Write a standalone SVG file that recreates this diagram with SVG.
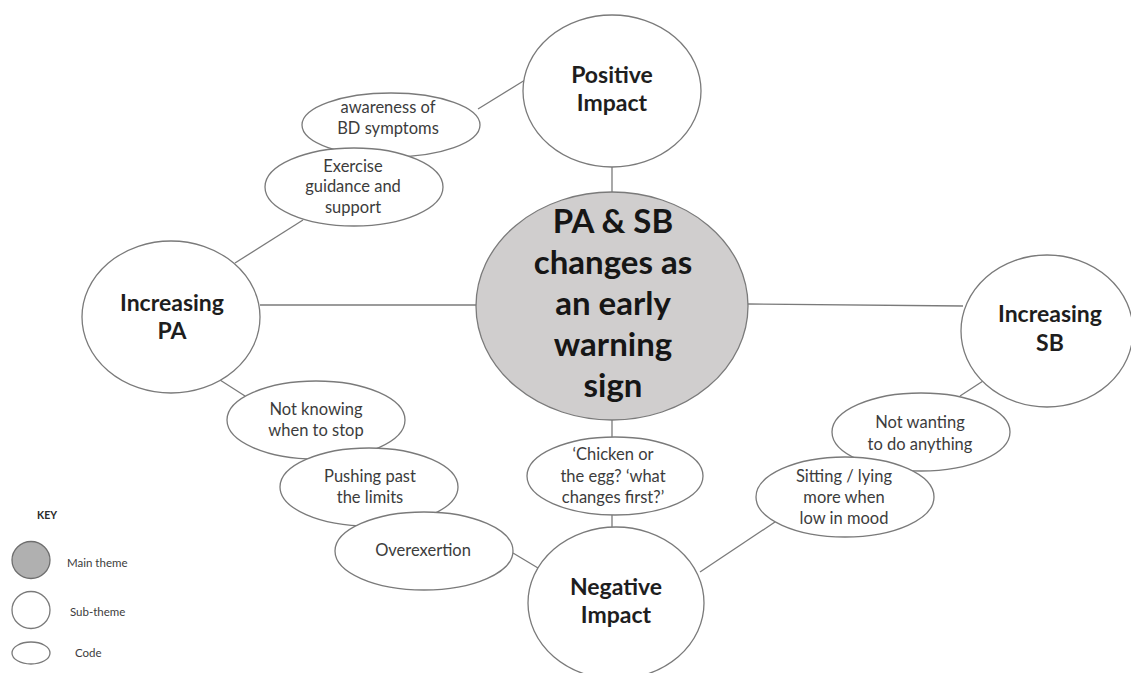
<svg xmlns="http://www.w3.org/2000/svg" width="1131" height="673" viewBox="0 0 1131 673">
  <style>
    .bg { fill: #ffffff; }
    .shape { fill: #ffffff; stroke: #7a7a7a; stroke-width: 1.3; }
    .main { fill: #d0cece; stroke: #7a7a7a; stroke-width: 1.3; }
    .link { stroke: #7a7a7a; stroke-width: 1.3; fill: none; }
    .title { font-family: Lato, "Liberation Sans", sans-serif; font-weight: bold; font-size: 33px; fill: #161616; text-anchor: middle; }
    .sub { font-family: Lato, "Liberation Sans", sans-serif; font-weight: bold; font-size: 23px; fill: #1e1e1e; text-anchor: middle; }
    .code { font-family: Lato, "Liberation Sans", sans-serif; font-size: 16.5px; fill: #3c3c3c; text-anchor: middle; }
    .key { font-family: Lato, "Liberation Sans", sans-serif; font-size: 11.5px; fill: #3c3c3c; }
  </style>
  <rect class="bg" x="0" y="0" width="1131" height="673"/>

  <!-- connectors -->
  <g id="connectors">
    <line class="link" x1="612" y1="167" x2="612" y2="192"/>
    <line class="link" x1="260" y1="305" x2="477" y2="305"/>
    <line class="link" x1="748" y1="304" x2="963" y2="306"/>
    <line class="link" x1="612" y1="420" x2="612" y2="438"/>
    <line class="link" x1="612" y1="515" x2="612" y2="527"/>
    <line class="link" x1="478" y1="109" x2="525" y2="80"/>
    <line class="link" x1="303" y1="220" x2="235" y2="263"/>
    <line class="link" x1="220" y1="380" x2="245" y2="396"/>
    <line class="link" x1="513" y1="553" x2="538" y2="568"/>
    <line class="link" x1="983" y1="381" x2="960" y2="396"/>
    <line class="link" x1="775" y1="522" x2="700" y2="572"/>
  </g>

  <!-- main theme -->
  <g id="main-theme">
    <ellipse class="main" cx="612" cy="306" rx="136" ry="114"/>
    <text class="title" x="613" y="233">PA &amp; SB</text>
    <text class="title" x="613" y="274">changes as</text>
    <text class="title" x="613" y="315">an early</text>
    <text class="title" x="613" y="356">warning</text>
    <text class="title" x="613" y="397">sign</text>
  </g>

  <!-- sub-themes -->
  <g id="positive-impact">
    <ellipse class="shape" cx="612" cy="91" rx="89" ry="76"/>
    <text class="sub" x="612" y="83">Positive</text>
    <text class="sub" x="612" y="111">Impact</text>
  </g>
  <g id="increasing-pa">
    <ellipse class="shape" cx="171" cy="317" rx="89" ry="76"/>
    <text class="sub" x="172" y="311">Increasing</text>
    <text class="sub" x="172" y="339">PA</text>
  </g>
  <g id="increasing-sb">
    <ellipse class="shape" cx="1047" cy="331" rx="86" ry="76"/>
    <text class="sub" x="1050" y="322">Increasing</text>
    <text class="sub" x="1050" y="351">SB</text>
  </g>
  <g id="negative-impact">
    <ellipse class="shape" cx="616" cy="603" rx="88" ry="76"/>
    <text class="sub" x="616" y="595">Negative</text>
    <text class="sub" x="616" y="623">Impact</text>
  </g>

  <!-- codes -->
  <g id="awareness">
    <ellipse class="shape" cx="391" cy="125" rx="89" ry="32"/>
    <text class="code" x="388" y="113">awareness of</text>
    <text class="code" x="388" y="134">BD symptoms</text>
  </g>
  <g id="exercise-guidance">
    <ellipse class="shape" cx="354" cy="187" rx="89" ry="39"/>
    <text class="code" x="353" y="172">Exercise</text>
    <text class="code" x="353" y="192">guidance and</text>
    <text class="code" x="353" y="213">support</text>
  </g>
  <g id="not-knowing">
    <ellipse class="shape" cx="316" cy="420" rx="89" ry="39"/>
    <text class="code" x="316" y="415">Not knowing</text>
    <text class="code" x="316" y="436">when to stop</text>
  </g>
  <g id="pushing-past">
    <ellipse class="shape" cx="369" cy="487" rx="89" ry="39"/>
    <text class="code" x="370" y="482">Pushing past</text>
    <text class="code" x="370" y="503">the limits</text>
  </g>
  <g id="overexertion">
    <ellipse class="shape" cx="424" cy="551" rx="89" ry="39"/>
    <text class="code" x="423" y="556">Overexertion</text>
  </g>
  <g id="chicken-egg">
    <ellipse class="shape" cx="615" cy="476" rx="88" ry="39"/>
    <text class="code" x="613" y="460">‘Chicken or</text>
    <text class="code" x="613" y="482">the egg? ‘what</text>
    <text class="code" x="613" y="503">changes first?’</text>
  </g>
  <g id="not-wanting">
    <ellipse class="shape" cx="921" cy="432" rx="89" ry="39"/>
    <text class="code" x="920" y="428">Not wanting</text>
    <text class="code" x="920" y="450">to do anything</text>
  </g>
  <g id="sitting-lying">
    <ellipse class="shape" cx="845" cy="497" rx="89" ry="40"/>
    <text class="code" x="844" y="482">Sitting / lying</text>
    <text class="code" x="844" y="503">more when</text>
    <text class="code" x="844" y="524">low in mood</text>
  </g>

  <!-- key -->
  <g id="key">
    <text class="key" x="37" y="519" style="font-weight:bold;font-size:10.5px;fill:#2a2a2a">KEY</text>
    <ellipse cx="31" cy="560" rx="19" ry="18.5" fill="#b0b0b0" stroke="#6e6e6e" stroke-width="1.3"/>
    <text class="key" x="67" y="567">Main theme</text>
    <ellipse class="shape" cx="31" cy="610" rx="19" ry="18.5"/>
    <text class="key" x="70" y="616">Sub-theme</text>
    <ellipse class="shape" cx="31" cy="653" rx="19" ry="11"/>
    <text class="key" x="75" y="657">Code</text>
  </g>
</svg>
